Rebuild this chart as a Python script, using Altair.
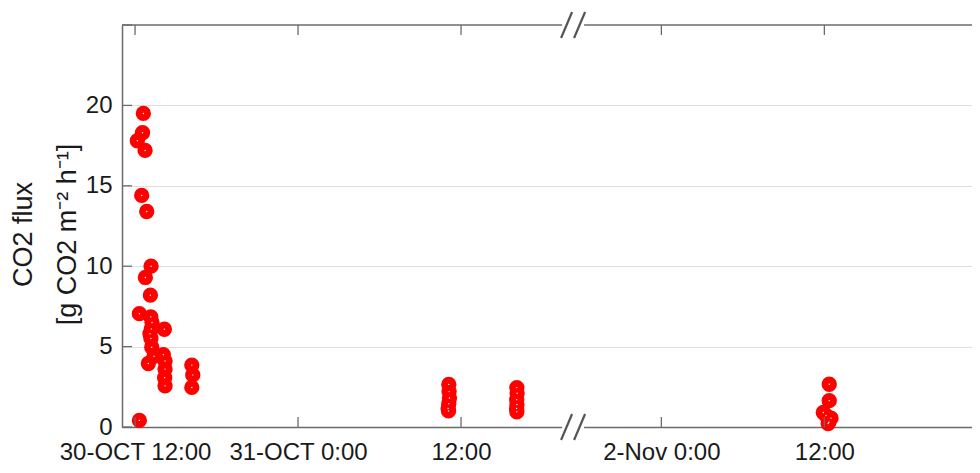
import altair as alt
import pandas as pd

# ---- data: sampling time (hours since 30-OCT 00:00) and CO2 flux ----
hours_a = [12.61, 12.55, 12.17, 12.74, 12.49, 12.86,
           13.18, 12.76, 13.13, 12.32, 13.16, 13.25, 13.20, 13.10, 13.17,
           14.16, 13.23, 13.40, 12.98, 14.08, 14.21, 14.21, 14.18, 14.21,
           16.18, 16.25, 16.18, 12.32]
flux_a = [19.5, 18.3, 17.8, 17.2, 14.4, 13.4,
          10.0, 9.3, 8.2, 7.05, 6.85, 6.5, 6.1, 5.8, 5.5,
          6.08, 4.96, 4.4, 3.95, 4.5, 4.1, 3.6, 3.07, 2.56,
          3.85, 3.24, 2.46, 0.41]

hours_b = [35.10, 35.12, 35.15, 35.10, 35.05, 35.08]
flux_b = [2.65, 2.2, 1.8, 1.45, 1.15, 1.0]

hours_c = [40.11, 40.13, 40.10, 40.12, 40.09, 40.11]
flux_c = [2.45, 2.1, 1.7, 1.4, 1.15, 0.95]

hours_d = [84.36, 84.36, 83.92, 84.12, 84.49, 84.33, 84.28]
flux_d = [2.66, 1.64, 0.9, 0.72, 0.55, 0.3, 0.22]

# axis break (hours since 30-OCT 00:00)
break_start = 44.25
break_end = 65.5

tick_hours = [12, 24, 36, 72, 84]
tick_labels = ["30-OCT 12:00", "31-OCT 0:00", "12:00", "2-Nov 0:00", "12:00"]
y_tick_values = [0, 5, 10, 15, 20, 25]

x_start_hours = 11.04
x_end_hours = 94.87

gap = break_end - break_start


def compress(h):
    return h if h <= break_start else h - gap


hours = hours_a + hours_b + hours_c + hours_d
flux = flux_a + flux_b + flux_c + flux_d
df = pd.DataFrame({"hours": hours, "flux": flux})
df["pos"] = df["hours"].map(compress)

tick_pos = [compress(h) for h in tick_hours]
xt = pd.DataFrame({"pos": tick_pos})
yt = pd.DataFrame({"flux": y_tick_values})
bk = pd.DataFrame({"pos": [break_start]})

label_expr = ""
for p, lab in zip(tick_pos, tick_labels):
    label_expr += f"datum.value == {p} ? '{lab}' : "
label_expr += "''"

FONT = "Liberation Sans"
AX = "#6b6b6b"
W, H = 850, 402

xs = alt.Scale(domain=[compress(x_start_hours), compress(x_end_hours)], nice=False, zero=False)
ys = alt.Scale(domain=[0, 25], nice=False, zero=True)

x_axis = alt.Axis(values=tick_pos, labelExpr=label_expr, title=None, grid=False,
                  ticks=False, domain=True, domainColor=AX, domainWidth=1.5,
                  labelFontSize=24, labelFont=FONT,
                  labelColor="#1a1a1a", labelPadding=13, labelFlush=False, labelOverlap=False)
y_axis = alt.Axis(values=y_tick_values[:-1], title=["CO2 flux", "[g CO2 m\u207b\u00b2 h\u207b\u00b9]"],
                  grid=True, gridColor="#dedede", gridWidth=1, ticks=False,
                  domain=True, domainColor=AX, domainWidth=1.5,
                  labelFontSize=24, labelFont=FONT, labelColor="#1a1a1a",
                  labelPadding=10, titleFontSize=27, titleFont=FONT, titleFontWeight="normal",
                  titleColor="#1a1a1a", titleAngle=270, titleX=-112, titleY=209,
                  titleAlign="center", titleBaseline="top", titleLineHeight=44)

X = alt.X("pos:Q", scale=xs, axis=x_axis)
Y = alt.Y("flux:Q", scale=ys, axis=y_axis)

# top frame line of the plot box
top_frame = alt.Chart(bk).mark_rule(color=AX, strokeWidth=1.5).encode(
    x=alt.value(0), x2=alt.value(W), y=alt.value(0))

points = alt.Chart(df).mark_circle(size=235, color="#ff0000", opacity=1).encode(x=X, y=Y)
dots = alt.Chart(df).mark_circle(size=2, fill="white", strokeWidth=0, opacity=1).encode(x=X, y=Y)

top_ticks = alt.Chart(xt).mark_rule(color=AX, strokeWidth=1.3).encode(
    x=X, y=alt.value(0), y2=alt.value(10))
bot_ticks = alt.Chart(xt).mark_rule(color=AX, strokeWidth=1.3).encode(
    x=X, y=alt.value(H), y2=alt.value(H - 10))
left_ticks = alt.Chart(yt).mark_rule(color=AX, strokeWidth=1.3).encode(
    y=Y, x=alt.value(0), x2=alt.value(10))

gap_top = alt.Chart(bk).mark_rect(color="white", xOffset=-11, x2Offset=11).encode(
    x=X, x2="pos:Q", y=alt.value(-3), y2=alt.value(3))
gap_bot = alt.Chart(bk).mark_rect(color="white", xOffset=-11, x2Offset=11).encode(
    x=X, x2="pos:Q", y=alt.value(H - 3), y2=alt.value(H + 3))

slashes = []
for y0 in (0, H):
    for (o1, o2) in ((-12, -1), (1, 12)):
        slashes.append(
            alt.Chart(bk).mark_rule(color="#555555", strokeWidth=2.2, xOffset=o1, x2Offset=o2).encode(
                x=X, x2="pos:Q",
                y=alt.value(y0 + 13), y2=alt.value(y0 - 13)))

chart = alt.layer(top_frame, points, dots, top_ticks, bot_ticks, left_ticks,
                  gap_top, gap_bot, *slashes).properties(
    width=W, height=H,
    autosize=alt.AutoSizeParams(type="none"),
    padding={"left": 114, "top": 17, "right": 0, "bottom": 37},
    background="white",
).configure_view(stroke=None)

chart.save("out.html", embed_options={"renderer": "svg", "actions": False})
